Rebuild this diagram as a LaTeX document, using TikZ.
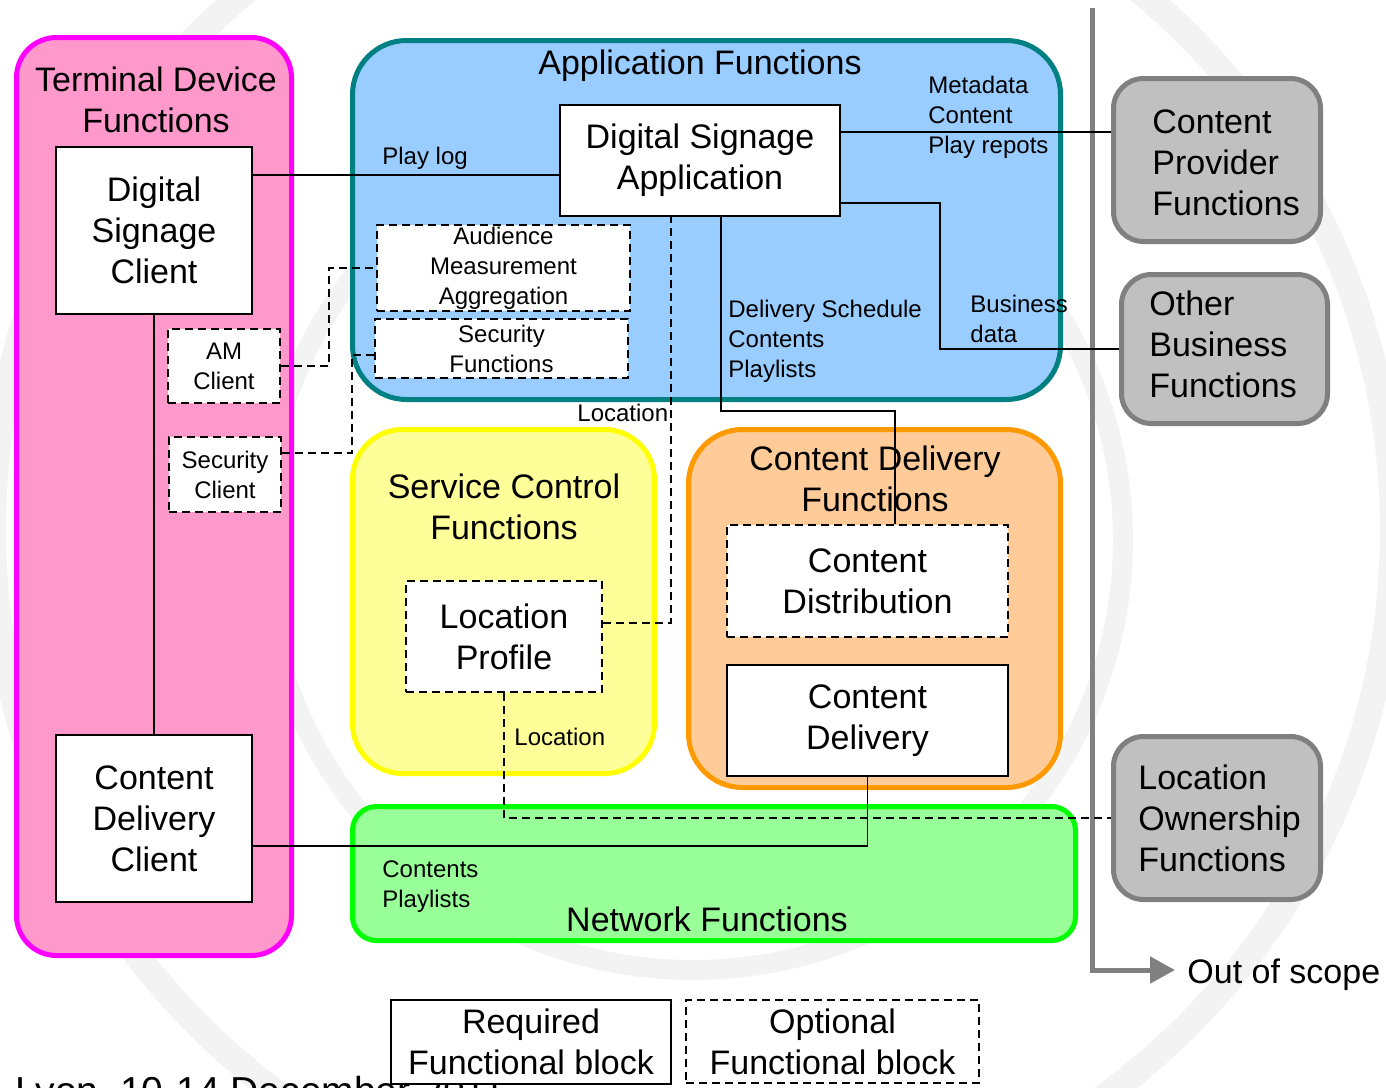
\documentclass[tikz,border=0pt]{standalone}
\usepackage{fontspec}
\setmainfont{Liberation Sans}
\usetikzlibrary{arrows.meta}
\newcommand{\dsBig}{\fontsize{17pt}{20.5pt}\selectfont}
\newcommand{\dsSmall}{\fontsize{12pt}{15pt}\selectfont}
\definecolor{tdfill}{HTML}{FF99CC}
\definecolor{tdline}{HTML}{FF00FF}
\definecolor{affill}{HTML}{99CCFF}
\definecolor{afline}{HTML}{008080}
\definecolor{scfill}{HTML}{FFFF99}
\definecolor{scline}{HTML}{FFFF00}
\definecolor{cdfill}{HTML}{FFCC99}
\definecolor{cdline}{HTML}{FF9900}
\definecolor{nffill}{HTML}{99FF99}
\definecolor{nfline}{HTML}{00FF00}
\definecolor{gyfill}{HTML}{C0C0C0}
\definecolor{gyline}{HTML}{808080}
\definecolor{wmark}{HTML}{F3F3F3}
\begin{document}
\begin{tikzpicture}[x=0.5pt,y=-0.5pt,
  cont/.style={draw, line width=2.5pt, inner sep=0},
  ttl/.style={font=\dsBig, align=center, inner sep=0},
  box/.style={draw, fill=white, line width=1pt, inner sep=0, align=center, font=\dsBig},
  obox/.style={box, dash pattern=on 4pt off 2.5pt},
  sobox/.style={obox, font=\dsSmall},
  conn/.style={line width=0.8pt},
  dconn/.style={conn, dash pattern=on 4pt off 2.5pt},
  lbl/.style={inner sep=0, align=left, font=\dsSmall},
  gtxt/.style={inner sep=0, align=left, font=\dsBig},
  graybox/.style={cont, fill=gyfill, draw=gyline, rounded corners=15pt}
]
\path[use as bounding box, clip] (0,0) rectangle (1386,1087);
\fill[white] (0,0) rectangle (1386,1087);

% watermark
\draw[wmark, line width=13pt] (693,530) circle[radius=350pt];
\draw[wmark, line width=10pt] (693,540) circle[radius=215pt];

% footer (cut off at the bottom)
\node[anchor=base west, inner sep=0, font=\fontsize{19.5pt}{23pt}\selectfont] (foot) at (15,1104) {Lyon, 10-14 December 2011};

% out of scope line
\coordinate (vtop) at (1092,8);
\node[font=\dsBig, anchor=west, inner sep=0] (oos) at (1187,975) {Out of scope};
\draw[gyline, line width=2.5pt, -{Triangle[length=12.5pt,width=13pt]}] (vtop) |- ([xshift=-6pt,yshift=2.5pt]oos.west);

% containers
\node[cont, fill=tdfill, draw=tdline, rounded corners=20pt, minimum width=137.5pt, minimum height=459pt] (tdf) at (154,496.5) {};
\node[cont, fill=affill, draw=afline, rounded corners=27pt, minimum width=354pt, minimum height=179.5pt] (af) at (706.5,220) {};
\node[cont, fill=scfill, draw=scline, rounded corners=25pt, minimum width=151pt, minimum height=172pt] (scf) at (503.5,601.5) {};
\node[cont, fill=cdfill, draw=cdline, rounded corners=27pt, minimum width=186pt, minimum height=179pt] (cdf) at (874.5,608.5) {};
\node[cont, fill=nffill, draw=nfline, rounded corners=12pt, minimum width=361.5pt, minimum height=67pt] (nf) at (714,873.5) {};
\node[graybox, minimum width=103.5pt, minimum height=81.5pt] (cpf) at (1217,160) {};
\node[graybox, minimum width=103pt, minimum height=74.5pt] (obf) at (1224.5,349) {};
\node[graybox, minimum width=103.5pt, minimum height=81.5pt] (lof) at (1217,818) {};

% container titles
\node[ttl] (tdft) at (156,100) {Terminal Device\\Functions};
\node[ttl] (aft) at (700,66) {Application Functions};
\node[ttl] (scft) at (504,506.5) {Service Control\\Functions};
\node[ttl] (cdft) at (875,479) {Content Delivery\\Functions};
\node[ttl] (nft) at (707,919) {Network Functions};
\node[gtxt, anchor=west] (cpft) at (1152,162.5) {Content\\Provider\\Functions};
\node[gtxt, anchor=west] (obft) at (1149,344.5) {Other\\Business\\Functions};
\node[gtxt, anchor=west] (loft) at (1138,818.5) {Location\\Ownership\\Functions};

% functional blocks
\node[box, minimum width=98pt, minimum height=83.5pt] (dsc) at (154,230.5) {Digital\\Signage\\Client};
\node[box, minimum width=98pt, minimum height=83.5pt] (cdc) at (154,818.5) {Content\\Delivery\\Client};
\node[box, minimum width=140pt, minimum height=55.5pt] (dsa) at (700,160.5) {Digital Signage\\Application};
\node[sobox, minimum width=126.5pt, minimum height=43pt] (ama) at (503.5,268) {Audience\\Measurement\\Aggregation};
\node[sobox, minimum width=126.5pt, minimum height=29.5pt] (sf) at (501.5,348.5) {Security\\Functions};
\node[sobox, minimum width=56pt, minimum height=37pt] (amc) at (224,366) {AM\\Client};
\node[sobox, minimum width=56pt, minimum height=37.5pt] (sc) at (225,474.5) {Security\\Client};
\node[obox, minimum width=98pt, minimum height=55.5pt] (lp) at (504,636.5) {Location\\Profile};
\node[obox, minimum width=140.5pt, minimum height=56pt] (cdist) at (867.5,581) {Content\\Distribution};
\node[box, minimum width=140.5pt, minimum height=55.5pt] (cdel) at (867.5,720.5) {Content\\Delivery};

% connectors
\draw[conn] (dsc.east |- 0,175) -- (dsa.west |- 0,175);
\draw[conn] (dsa.east |- 0,132) -- (cpf.west |- 0,132);
\draw[conn] (dsa.east |- 0,203) -| (940,349) -- (obf.west |- 0,349);
\draw[conn] (dsa.south -| 721,0) -- (721,411) -| (cdist.north -| 895,0);
\draw[conn] (dsc.south) -- (cdc.north);
\draw[conn] (cdc.east |- 0,846) -| (cdel.south);
\draw[dconn] (amc.east) -- (329,366) |- (ama.west);
\draw[dconn] (sc.east |- 0,453) -- (352,453) |- (sf.west |- 0,355);
\draw[dconn] (lp.east |- 0,623) -| (dsa.south -| 671,0);
\draw[dconn] (lp.south) |- (lof.west |- 0,818);

% connector labels
\node[lbl, anchor=west] (lplay) at (382,158) {Play log};
\node[lbl, anchor=west] (lmeta) at (928,117.5) {Metadata\\Content\\Play repots};
\node[lbl, anchor=west] (lbus) at (970,319) {Business\\data};
\node[lbl, anchor=west] (ldel) at (728,341.5) {Delivery Schedule\\Contents\\Playlists};
\node[lbl, anchor=west] (lloc1) at (577,413) {Location};
\node[lbl, anchor=west] (lloc2) at (514,737) {Location};
\node[lbl, anchor=west] (lcont) at (382,887) {Contents\\Playlists};

% legend
\node[box, minimum width=140pt, minimum height=42pt] (req) at (531,1042) {Required\\Functional block};
\node[obox, minimum width=146.5pt, minimum height=41.5pt] (opt) at (832.5,1041.5) {Optional\\Functional block};
\end{tikzpicture}
\end{document}
